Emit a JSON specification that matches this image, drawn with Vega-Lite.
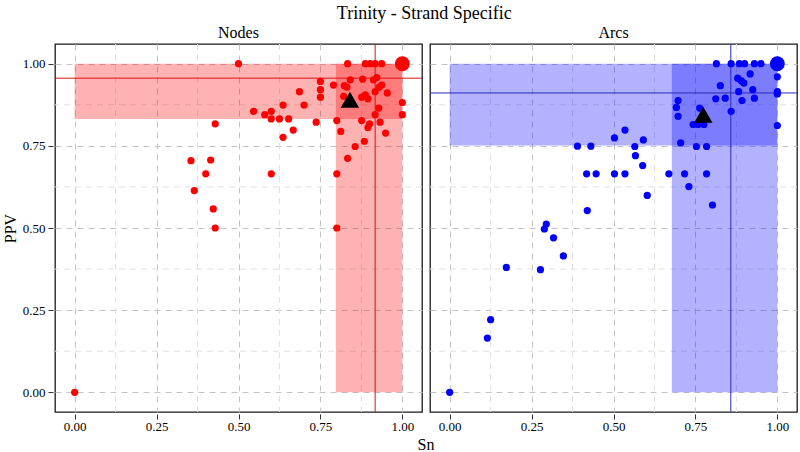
{
  "$schema": "https://vega.github.io/schema/vega-lite/v6.json",
  "padding": {"left": 2, "top": 5, "right": 0, "bottom": 0},
  "background": "white",
  "title": {"text": "Trinity - Strand Specific", "font": "Liberation Serif", "fontSize": 18, "fontWeight": "normal", "color": "black", "anchor": "middle", "offset": 2, "dx": 24},
  "datasets": {
    "all": [
      {"panel": "Nodes", "kind": "minor", "v": 0.125},
      {"panel": "Nodes", "kind": "minor", "v": 0.375},
      {"panel": "Nodes", "kind": "minor", "v": 0.625},
      {"panel": "Nodes", "kind": "minor", "v": 0.875},
      {"panel": "Arcs", "kind": "minor", "v": 0.125},
      {"panel": "Arcs", "kind": "minor", "v": 0.375},
      {"panel": "Arcs", "kind": "minor", "v": 0.625},
      {"panel": "Arcs", "kind": "minor", "v": 0.875},
      {"panel": "Nodes", "kind": "band", "x": 0, "x2": 1, "y": 0.832, "y2": 1},
      {"panel": "Nodes", "kind": "band", "x": 0.797, "x2": 1, "y": 0, "y2": 1},
      {"panel": "Arcs", "kind": "band", "x": 0, "x2": 1, "y": 0.751, "y2": 1},
      {"panel": "Arcs", "kind": "band", "x": 0.678, "x2": 1, "y": 0, "y2": 1},
      {"panel": "Nodes", "kind": "h", "y": 0.956},
      {"panel": "Nodes", "kind": "v", "x": 0.917},
      {"panel": "Arcs", "kind": "h", "y": 0.911},
      {"panel": "Arcs", "kind": "v", "x": 0.858},
      {"panel": "Nodes", "kind": "big", "x": 1, "y": 1},
      {"panel": "Arcs", "kind": "big", "x": 1, "y": 1},
      {"panel": "Nodes", "kind": "tri", "x": 0.84, "y": 0.89},
      {"panel": "Arcs", "kind": "tri", "x": 0.774, "y": 0.845},
      {"panel": "Nodes", "kind": "pt", "x": 0, "y": 0},
      {"panel": "Nodes", "kind": "pt", "x": 0.5, "y": 1.0},
      {"panel": "Nodes", "kind": "pt", "x": 0.833, "y": 1.0},
      {"panel": "Nodes", "kind": "pt", "x": 0.887, "y": 1.0},
      {"panel": "Nodes", "kind": "pt", "x": 0.902, "y": 1.0},
      {"panel": "Nodes", "kind": "pt", "x": 0.917, "y": 1.0},
      {"panel": "Nodes", "kind": "pt", "x": 0.937, "y": 1.0},
      {"panel": "Nodes", "kind": "pt", "x": 0.75, "y": 0.946},
      {"panel": "Nodes", "kind": "pt", "x": 0.79, "y": 0.935},
      {"panel": "Nodes", "kind": "pt", "x": 0.823, "y": 0.933},
      {"panel": "Nodes", "kind": "pt", "x": 0.841, "y": 0.951},
      {"panel": "Nodes", "kind": "pt", "x": 0.879, "y": 0.953},
      {"panel": "Nodes", "kind": "pt", "x": 0.912, "y": 0.951},
      {"panel": "Nodes", "kind": "pt", "x": 0.922, "y": 0.958},
      {"panel": "Nodes", "kind": "pt", "x": 0.937, "y": 0.935},
      {"panel": "Nodes", "kind": "pt", "x": 0.929, "y": 0.928},
      {"panel": "Nodes", "kind": "pt", "x": 0.917, "y": 0.915},
      {"panel": "Nodes", "kind": "pt", "x": 0.954, "y": 0.911},
      {"panel": "Nodes", "kind": "pt", "x": 0.75, "y": 0.921},
      {"panel": "Nodes", "kind": "pt", "x": 0.75, "y": 0.898},
      {"panel": "Nodes", "kind": "pt", "x": 0.686, "y": 0.915},
      {"panel": "Nodes", "kind": "pt", "x": 0.831, "y": 0.929},
      {"panel": "Nodes", "kind": "pt", "x": 0.821, "y": 0.901},
      {"panel": "Nodes", "kind": "pt", "x": 0.876, "y": 0.898},
      {"panel": "Nodes", "kind": "pt", "x": 0.887, "y": 0.905},
      {"panel": "Nodes", "kind": "pt", "x": 0.895, "y": 0.893},
      {"panel": "Nodes", "kind": "pt", "x": 0.636, "y": 0.874},
      {"panel": "Nodes", "kind": "pt", "x": 0.7, "y": 0.874},
      {"panel": "Nodes", "kind": "pt", "x": 0.928, "y": 0.865},
      {"panel": "Nodes", "kind": "pt", "x": 1.0, "y": 0.882},
      {"panel": "Nodes", "kind": "pt", "x": 1.0, "y": 0.845},
      {"panel": "Nodes", "kind": "pt", "x": 0.917, "y": 0.845},
      {"panel": "Nodes", "kind": "pt", "x": 0.546, "y": 0.855},
      {"panel": "Nodes", "kind": "pt", "x": 0.58, "y": 0.845},
      {"panel": "Nodes", "kind": "pt", "x": 0.6, "y": 0.855},
      {"panel": "Nodes", "kind": "pt", "x": 0.6, "y": 0.832},
      {"panel": "Nodes", "kind": "pt", "x": 0.625, "y": 0.832},
      {"panel": "Nodes", "kind": "pt", "x": 0.653, "y": 0.832},
      {"panel": "Nodes", "kind": "pt", "x": 0.667, "y": 0.798},
      {"panel": "Nodes", "kind": "pt", "x": 0.636, "y": 0.776},
      {"panel": "Nodes", "kind": "pt", "x": 0.737, "y": 0.822},
      {"panel": "Nodes", "kind": "pt", "x": 0.8, "y": 0.827},
      {"panel": "Nodes", "kind": "pt", "x": 0.812, "y": 0.794},
      {"panel": "Nodes", "kind": "pt", "x": 0.876, "y": 0.827},
      {"panel": "Nodes", "kind": "pt", "x": 0.9, "y": 0.817},
      {"panel": "Nodes", "kind": "pt", "x": 0.895, "y": 0.806},
      {"panel": "Nodes", "kind": "pt", "x": 0.932, "y": 0.822},
      {"panel": "Nodes", "kind": "pt", "x": 0.949, "y": 0.789},
      {"panel": "Nodes", "kind": "pt", "x": 0.884, "y": 0.764},
      {"panel": "Nodes", "kind": "pt", "x": 0.856, "y": 0.748},
      {"panel": "Nodes", "kind": "pt", "x": 0.833, "y": 0.712},
      {"panel": "Nodes", "kind": "pt", "x": 0.6, "y": 0.665},
      {"panel": "Nodes", "kind": "pt", "x": 0.8, "y": 0.665},
      {"panel": "Nodes", "kind": "pt", "x": 0.8, "y": 0.5},
      {"panel": "Nodes", "kind": "pt", "x": 0.429, "y": 0.817},
      {"panel": "Nodes", "kind": "pt", "x": 0.355, "y": 0.705},
      {"panel": "Nodes", "kind": "pt", "x": 0.415, "y": 0.707},
      {"panel": "Nodes", "kind": "pt", "x": 0.4, "y": 0.665},
      {"panel": "Nodes", "kind": "pt", "x": 0.365, "y": 0.614},
      {"panel": "Nodes", "kind": "pt", "x": 0.423, "y": 0.558},
      {"panel": "Nodes", "kind": "pt", "x": 0.429, "y": 0.5},
      {"panel": "Arcs", "kind": "pt", "x": 0, "y": 0},
      {"panel": "Arcs", "kind": "pt", "x": 0.115, "y": 0.165},
      {"panel": "Arcs", "kind": "pt", "x": 0.125, "y": 0.221},
      {"panel": "Arcs", "kind": "pt", "x": 0.173, "y": 0.38},
      {"panel": "Arcs", "kind": "pt", "x": 0.277, "y": 0.373},
      {"panel": "Arcs", "kind": "pt", "x": 0.289, "y": 0.497},
      {"panel": "Arcs", "kind": "pt", "x": 0.295, "y": 0.512},
      {"panel": "Arcs", "kind": "pt", "x": 0.317, "y": 0.47},
      {"panel": "Arcs", "kind": "pt", "x": 0.347, "y": 0.415},
      {"panel": "Arcs", "kind": "pt", "x": 0.42, "y": 0.553},
      {"panel": "Arcs", "kind": "pt", "x": 0.418, "y": 0.665},
      {"panel": "Arcs", "kind": "pt", "x": 0.447, "y": 0.665},
      {"panel": "Arcs", "kind": "pt", "x": 0.503, "y": 0.665},
      {"panel": "Arcs", "kind": "pt", "x": 0.535, "y": 0.665},
      {"panel": "Arcs", "kind": "pt", "x": 0.669, "y": 0.665},
      {"panel": "Arcs", "kind": "pt", "x": 0.717, "y": 0.665},
      {"panel": "Arcs", "kind": "pt", "x": 0.784, "y": 0.665},
      {"panel": "Arcs", "kind": "pt", "x": 0.39, "y": 0.749},
      {"panel": "Arcs", "kind": "pt", "x": 0.431, "y": 0.749},
      {"panel": "Arcs", "kind": "pt", "x": 0.503, "y": 0.774},
      {"panel": "Arcs", "kind": "pt", "x": 0.535, "y": 0.798},
      {"panel": "Arcs", "kind": "pt", "x": 0.591, "y": 0.768},
      {"panel": "Arcs", "kind": "pt", "x": 0.565, "y": 0.748},
      {"panel": "Arcs", "kind": "pt", "x": 0.567, "y": 0.72},
      {"panel": "Arcs", "kind": "pt", "x": 0.589, "y": 0.69},
      {"panel": "Arcs", "kind": "pt", "x": 0.603, "y": 0.599},
      {"panel": "Arcs", "kind": "pt", "x": 0.73, "y": 0.626},
      {"panel": "Arcs", "kind": "pt", "x": 0.802, "y": 0.57},
      {"panel": "Arcs", "kind": "pt", "x": 0.705, "y": 0.759},
      {"panel": "Arcs", "kind": "pt", "x": 0.753, "y": 0.748},
      {"panel": "Arcs", "kind": "pt", "x": 0.784, "y": 0.748},
      {"panel": "Arcs", "kind": "pt", "x": 0.743, "y": 0.815},
      {"panel": "Arcs", "kind": "pt", "x": 0.758, "y": 0.815},
      {"panel": "Arcs", "kind": "pt", "x": 0.776, "y": 0.815},
      {"panel": "Arcs", "kind": "pt", "x": 0.697, "y": 0.888},
      {"panel": "Arcs", "kind": "pt", "x": 0.692, "y": 0.867},
      {"panel": "Arcs", "kind": "pt", "x": 0.697, "y": 0.84},
      {"panel": "Arcs", "kind": "pt", "x": 0.763, "y": 0.865},
      {"panel": "Arcs", "kind": "pt", "x": 0.812, "y": 0.893},
      {"panel": "Arcs", "kind": "pt", "x": 0.841, "y": 0.895},
      {"panel": "Arcs", "kind": "pt", "x": 0.859, "y": 0.855},
      {"panel": "Arcs", "kind": "pt", "x": 0.892, "y": 0.888},
      {"panel": "Arcs", "kind": "pt", "x": 0.93, "y": 0.895},
      {"panel": "Arcs", "kind": "pt", "x": 0.882, "y": 0.915},
      {"panel": "Arcs", "kind": "pt", "x": 0.925, "y": 0.921},
      {"panel": "Arcs", "kind": "pt", "x": 0.826, "y": 0.933},
      {"panel": "Arcs", "kind": "pt", "x": 0.879, "y": 0.956},
      {"panel": "Arcs", "kind": "pt", "x": 0.89, "y": 0.948},
      {"panel": "Arcs", "kind": "pt", "x": 0.898, "y": 0.941},
      {"panel": "Arcs", "kind": "pt", "x": 0.917, "y": 0.969},
      {"panel": "Arcs", "kind": "pt", "x": 0.814, "y": 1.0},
      {"panel": "Arcs", "kind": "pt", "x": 0.859, "y": 1.0},
      {"panel": "Arcs", "kind": "pt", "x": 0.884, "y": 1.0},
      {"panel": "Arcs", "kind": "pt", "x": 0.9, "y": 1.0},
      {"panel": "Arcs", "kind": "pt", "x": 0.93, "y": 1.0},
      {"panel": "Arcs", "kind": "pt", "x": 0.95, "y": 1.0},
      {"panel": "Arcs", "kind": "pt", "x": 1.0, "y": 0.96},
      {"panel": "Arcs", "kind": "pt", "x": 1.0, "y": 0.915},
      {"panel": "Arcs", "kind": "pt", "x": 1.0, "y": 0.908},
      {"panel": "Arcs", "kind": "pt", "x": 1.0, "y": 0.812}
    ]
  },
  "data": {"name": "all"},
  "facet": {
    "column": {
      "field": "panel",
      "type": "nominal",
      "sort": ["Nodes", "Arcs"],
      "title": "Sn",
      "header": {
        "titleOrient": "bottom",
        "labelOrient": "top",
        "titleFont": "Liberation Serif",
        "titleFontSize": 16,
        "titleFontWeight": "normal",
        "titleColor": "black",
        "titlePadding": -6,
        "labelFont": "Liberation Serif",
        "labelFontSize": 16,
        "labelColor": "black",
        "labelPadding": 1
      }
    }
  },
  "spacing": 4,
  "spec": {
    "width": 367,
    "height": 368,
    "layer": [
      {
        "transform": [{"filter": "datum.kind === 'minor'"}],
        "mark": {"type": "rule", "color": "#e0e0e0", "strokeWidth": 1, "strokeDash": [6, 5]},
        "encoding": {"x": {"field": "v", "type": "quantitative"}}
      },
      {
        "transform": [{"filter": "datum.kind === 'minor'"}],
        "mark": {"type": "rule", "color": "#e0e0e0", "strokeWidth": 1, "strokeDash": [6, 5]},
        "encoding": {"y": {"field": "v", "type": "quantitative"}}
      },
      {
        "transform": [{"filter": "datum.kind === 'band'"}],
        "mark": {"type": "rect", "opacity": 0.3},
        "encoding": {
          "x": {"field": "x", "type": "quantitative"},
          "x2": {"field": "x2"},
          "y": {"field": "y", "type": "quantitative"},
          "y2": {"field": "y2"},
          "color": {"condition": {"test": "datum.panel === 'Nodes'", "value": "#FF0000"}, "value": "#0000FF"}
        }
      },
      {
        "transform": [{"filter": "datum.kind === 'h'"}],
        "mark": {"type": "rule", "strokeWidth": 1},
        "encoding": {
          "y": {"field": "y", "type": "quantitative"},
          "color": {"condition": {"test": "datum.panel === 'Nodes'", "value": "#E01010"}, "value": "#2828B8"}
        }
      },
      {
        "transform": [{"filter": "datum.kind === 'v'"}],
        "mark": {"type": "rule", "strokeWidth": 1},
        "encoding": {
          "x": {"field": "x", "type": "quantitative"},
          "color": {"condition": {"test": "datum.panel === 'Nodes'", "value": "#E01010"}, "value": "#2828B8"}
        }
      },
      {
        "transform": [{"filter": "datum.kind === 'pt'"}],
        "mark": {"type": "circle", "size": 52, "opacity": 1},
        "encoding": {
          "x": {"field": "x", "type": "quantitative"},
          "y": {"field": "y", "type": "quantitative"},
          "color": {"condition": {"test": "datum.panel === 'Nodes'", "value": "#FF0000"}, "value": "#0000FF"}
        }
      },
      {
        "transform": [{"filter": "datum.kind === 'big'"}],
        "mark": {"type": "circle", "size": 220, "opacity": 1},
        "encoding": {
          "x": {"field": "x", "type": "quantitative"},
          "y": {"field": "y", "type": "quantitative"},
          "color": {"condition": {"test": "datum.panel === 'Nodes'", "value": "#FF0000"}, "value": "#0000FF"}
        }
      },
      {
        "transform": [{"filter": "datum.kind === 'tri'"}],
        "mark": {"type": "point", "shape": "triangle-up", "size": 340, "filled": true, "opacity": 1, "color": "black"},
        "encoding": {
          "x": {"field": "x", "type": "quantitative", "scale": {"domain": [-0.06, 1.06], "nice": false, "zero": false}, "axis": {"title": null, "labelOverlap": false, "labelPadding": 1, "values": [0, 0.25, 0.5, 0.75, 1], "format": ".2f"}},
          "y": {"field": "y", "type": "quantitative", "scale": {"domain": [-0.06, 1.06], "nice": false, "zero": false}, "axis": {"title": "PPV", "labelOverlap": false, "titlePadding": 4, "values": [0, 0.25, 0.5, 0.75, 1], "format": ".2f"}}
        }
      }
    ]
  },
  "config": {
    "view": {"stroke": "#1a1a1a", "strokeWidth": 1.3},
    "axis": {
      "labelFont": "Liberation Serif",
      "labelFontSize": 13,
      "labelColor": "black",
      "titleFont": "Liberation Serif",
      "titleFontSize": 16,
      "titleFontWeight": "normal",
      "titleColor": "black",
      "domain": false,
      "grid": true,
      "gridColor": "#c4c4c4",
      "gridDash": [6, 5],
      "gridWidth": 1,
      "tickColor": "#333333",
      "tickSize": 5,
      "labelPadding": 3,
      "labelFlush": false
    }
  }
}
